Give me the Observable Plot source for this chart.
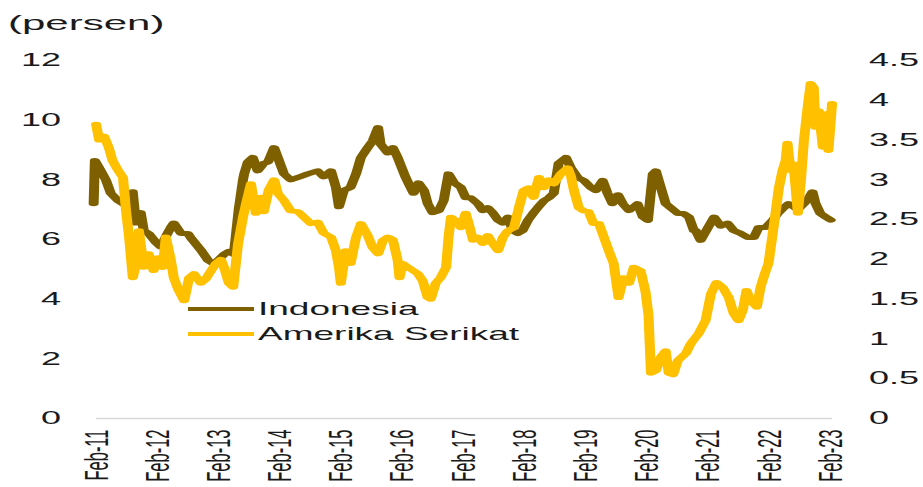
<!DOCTYPE html>
<html>
<head>
<meta charset="utf-8">
<script src="https://cdn.jsdelivr.net/npm/d3@7"></script>
<script src="https://cdn.jsdelivr.net/npm/@observablehq/plot@0.6"></script>
<style>
  html, body { margin: 0; padding: 0; background: #fff; }
  #stage {
    position: relative; width: 461.5px; height: 487px;
    transform: scaleX(2); transform-origin: 0 0;
    font-family: "Liberation Sans", Arial, sans-serif; color: #1a1a1a;
  }
  #unit { position: absolute; left: 4px; top: 9px; font-size: 21px; line-height: 28px; }
  .leg { position: absolute; left: 94px; height: 24px; display: flex; align-items: center; font-size: 18.5px; white-space: nowrap; }
  .leg .sw { width: 33px; height: 4px; margin-right: 2px; }
  svg { overflow: visible; }
</style>
</head>
<body>
<div id="stage">
  <div id="unit">(persen)</div>
  <div id="chart"></div>
  <div class="leg" style="top:297px"><span class="sw" style="background:#7F6000"></span>Indonesia</div>
  <div class="leg" style="top:322px"><span class="sw" style="background:#FFC000"></span>Amerika Serikat</div>
</div>
<script>
// Series names
const seriesNames = ["Indonesia", "Amerika Serikat"];
// Axis ticks
const leftTicks = [0, 2, 4, 6, 8, 10, 12];
const rightTicks = [0, 0.5, 1, 1.5, 2, 2.5, 3, 3.5, 4, 4.5];
const xTickYears = [2011, 2012, 2013, 2014, 2015, 2016, 2017, 2018, 2019, 2020, 2021, 2022, 2023];

// Indonesia (left axis), dates as decimal years
const indoYears = [2011.03, 2011.05, 2011.15, 2011.23, 2011.31, 2011.43, 2011.51, 2011.59, 2011.67, 2011.72, 2011.80, 2011.85, 2011.93,
  2012.05, 2012.13, 2012.21, 2012.29, 2012.34, 2012.46, 2012.57, 2012.62, 2012.78, 2012.90, 2012.98,
  2013.06, 2013.16, 2013.24, 2013.32, 2013.40, 2013.47, 2013.49, 2013.55, 2013.63, 2013.71, 2013.81, 2013.88, 2013.98,
  2014.04, 2014.14, 2014.25, 2014.37, 2014.53, 2014.69, 2014.79, 2014.91, 2014.99,
  2015.04, 2015.12, 2015.23, 2015.32, 2015.40, 2015.51, 2015.59, 2015.68, 2015.72, 2015.84, 2015.92,
  2016.00, 2016.13, 2016.21, 2016.26, 2016.34, 2016.43, 2016.49, 2016.57, 2016.67, 2016.75, 2016.83, 2016.92,
  2017.03, 2017.11, 2017.19, 2017.31, 2017.39, 2017.47, 2017.55, 2017.64, 2017.72, 2017.80, 2017.88, 2017.96,
  2018.04, 2018.13, 2018.21, 2018.29, 2018.39, 2018.47, 2018.55, 2018.63, 2018.75, 2018.83, 2018.94,
  2019.04, 2019.16, 2019.24, 2019.35, 2019.43, 2019.51, 2019.60, 2019.68, 2019.78, 2019.92,
  2020.01, 2020.09, 2020.17, 2020.22, 2020.30, 2020.38, 2020.46, 2020.58, 2020.67, 2020.76, 2020.84, 2020.87, 2020.95,
  2021.07, 2021.17, 2021.28, 2021.39, 2021.49, 2021.61, 2021.72, 2021.82, 2021.90,
  2022.01, 2022.13, 2022.21, 2022.31, 2022.39, 2022.47, 2022.54, 2022.64, 2022.72, 2022.78, 2022.83, 2022.91,
  2023.00, 2023.08];
const indoValues = [7.2, 8.65, 8.3, 8.0, 7.55, 7.3, 7.2, 7.1, 7.6, 6.55, 6.9, 6.3, 6.2,
  5.9, 5.75, 6.1, 6.4, 6.55, 6.2, 6.2, 6.05, 5.65, 5.3, 5.2,
  5.3, 5.5, 5.6, 5.5, 7.0, 8.0, 8.2, 8.6, 8.75, 8.3, 8.55, 8.6, 9.08,
  8.75, 8.2, 8.0, 8.08, 8.2, 8.3, 8.1, 8.3, 7.75,
  7.1, 7.65, 7.75, 8.2, 8.75, 9.08, 9.3, 9.75, 9.2, 8.9, 9.08,
  8.75, 8.08, 7.75, 7.55, 7.9, 7.65, 7.2, 6.9, 6.97, 7.3, 8.2, 7.9,
  7.75, 7.4, 7.4, 7.2, 6.97, 7.07, 6.9, 6.65, 6.55, 6.75, 6.3, 6.2,
  6.3, 6.65, 6.87, 7.07, 7.3, 7.4, 7.55, 8.55, 8.75, 8.4, 8.08,
  7.98, 7.74, 7.64, 7.98, 7.55, 7.2, 7.5, 7.2, 6.97, 7.2,
  6.75, 6.64, 8.2, 8.3, 7.75, 7.2, 7.07, 6.87, 6.87, 6.75, 6.3, 6.3, 5.97,
  6.4, 6.75, 6.45, 6.55, 6.3, 6.2, 6.07, 6.07, 6.4,
  6.4, 6.65, 6.87, 7.07, 7.2, 7.1, 7.0, 7.2, 7.4, 7.6, 7.2, 6.87,
  6.75, 6.65];

// Amerika Serikat (right axis), dates as decimal years
const usYears = [2011.07, 2011.12, 2011.20, 2011.28, 2011.34, 2011.43, 2011.51, 2011.56, 2011.61, 2011.67, 2011.75, 2011.77, 2011.85, 2011.93,
  2012.01, 2012.08, 2012.16, 2012.21, 2012.29, 2012.34, 2012.42, 2012.51, 2012.59, 2012.67, 2012.78, 2012.86, 2012.95,
  2013.03, 2013.11, 2013.16, 2013.24, 2013.31, 2013.39, 2013.47, 2013.52, 2013.60, 2013.68, 2013.76, 2013.81, 2013.89, 2013.98,
  2014.04, 2014.14, 2014.25, 2014.37, 2014.47, 2014.58, 2014.69, 2014.79, 2014.91, 2014.99,
  2015.04, 2015.07, 2015.15, 2015.23, 2015.32, 2015.40, 2015.51, 2015.59, 2015.68, 2015.76, 2015.84, 2015.92,
  2016.00, 2016.03, 2016.08, 2016.17, 2016.25, 2016.33, 2016.41, 2016.49, 2016.54, 2016.62, 2016.70, 2016.79, 2016.83, 2016.87, 2016.95,
  2017.03, 2017.11, 2017.16, 2017.23, 2017.31, 2017.39, 2017.47, 2017.55, 2017.64, 2017.72, 2017.80, 2017.90, 2017.98,
  2018.06, 2018.14, 2018.22, 2018.31, 2018.39, 2018.47, 2018.55, 2018.67, 2018.78, 2018.83, 2018.88, 2018.96,
  2019.04, 2019.12, 2019.20, 2019.29, 2019.37, 2019.45, 2019.53, 2019.61, 2019.69, 2019.78, 2019.86, 2019.97,
  2020.05, 2020.10, 2020.14, 2020.22, 2020.30, 2020.38, 2020.43, 2020.50, 2020.58, 2020.71, 2020.79, 2020.92,
  2021.03, 2021.12, 2021.21, 2021.31, 2021.41, 2021.49, 2021.57, 2021.64, 2021.70, 2021.77, 2021.87, 2021.93,
  2022.00, 2022.06, 2022.13, 2022.18, 2022.23, 2022.29, 2022.34, 2022.37, 2022.42, 2022.47, 2022.54, 2022.59, 2022.64, 2022.70, 2022.75, 2022.80, 2022.83, 2022.88, 2022.95,
  2023.00, 2023.04, 2023.10];
const usValues = [3.7, 3.5, 3.55, 3.4, 3.24, 3.12, 3.03, 2.61, 2.28, 1.77, 2.02, 2.36, 1.9, 2.07,
  1.86, 2.02, 1.9, 2.28, 2.0, 1.77, 1.61, 1.48, 1.77, 1.82, 1.7, 1.75, 1.86,
  1.95, 2.0, 1.9, 1.7, 1.65, 2.2, 2.53, 2.7, 2.95, 2.58, 2.78, 2.6, 2.87, 3.0,
  2.83, 2.74, 2.61, 2.6, 2.53, 2.45, 2.47, 2.33, 2.28, 2.11,
  1.9, 1.7, 2.11, 1.95, 2.28, 2.45, 2.3, 2.15, 2.07, 2.24, 2.28, 2.25,
  1.99, 1.77, 1.95, 1.9, 1.86, 1.82, 1.73, 1.52, 1.5, 1.7, 1.77, 1.9, 2.28, 2.53, 2.49,
  2.4, 2.58, 2.45, 2.24, 2.28, 2.2, 2.3, 2.2, 2.11, 2.28, 2.36, 2.4, 2.65,
  2.87, 2.9, 2.78, 3.03, 2.9, 3.0, 2.95, 3.08, 3.15, 3.05, 2.87, 2.65,
  2.61, 2.6, 2.45, 2.45, 2.28, 2.11, 1.95, 1.52, 1.77, 1.7, 1.9, 1.86,
  1.6, 1.3, 0.57, 0.6, 0.77, 0.85, 0.57, 0.55, 0.73, 0.82, 0.94, 1.07,
  1.23, 1.57, 1.71, 1.65, 1.52, 1.32, 1.23, 1.36, 1.61, 1.48, 1.4, 1.65,
  1.82, 1.95, 2.33, 2.61, 2.9, 3.12, 3.24, 3.46, 3.12, 3.2, 2.58, 2.99, 3.5, 3.91, 4.21, 4.16, 3.66, 3.87, 3.41,
  3.83, 3.37, 3.96];

function decimalYearToDate(y) {
  const yr = Math.floor(y);
  const a = Date.UTC(yr, 0, 1), b = Date.UTC(yr + 1, 0, 1);
  return new Date(a + (y - yr) * (b - a));
}

const leftMax = 12, rightMax = 4.5, ratio = leftMax / rightMax;
const indo = indoYears.map((y, i) => ({date: decimalYearToDate(y), value: indoValues[i]}));
const us = usYears.map((y, i) => ({date: decimalYearToDate(y), value: usValues[i] * ratio}));
const xTicks = xTickYears.map(y => new Date(Date.UTC(y, 1, 1)));

const chart = Plot.plot({
  width: 461.5,
  height: 487,
  marginLeft: 48,
  marginRight: 45.5,
  marginTop: 60,
  marginBottom: 69,
  style: {fontFamily: '"Liberation Sans", Arial, sans-serif', fontSize: "18px", color: "#1a1a1a", background: "transparent"},
  x: {type: "utc", domain: [new Date(Date.UTC(2011, 1, 1)), new Date(Date.UTC(2023, 1, 12))]},
  y: {domain: [0, leftMax]},
  marks: [
    Plot.ruleY([0], {stroke: "#d9d9d9", strokeWidth: 1.5}),
    Plot.axisY(leftTicks, {anchor: "left", tickSize: 0, tickPadding: 18, label: null, fontSize: 18}),
    Plot.axisY(rightTicks.map(v => v * ratio), {anchor: "right", tickSize: 0, tickPadding: 18, label: null, fontSize: 18,
      tickFormat: d => String(+(d / ratio).toFixed(2))}),
    Plot.axisX(xTicks, {anchor: "bottom", tickSize: 0, tickPadding: 11, tickRotate: -90, label: null, fontSize: 16.5,
      tickFormat: d3.utcFormat("%b-%y")}),
    Plot.line(indo, {x: "date", y: "value", stroke: "#7F6000", strokeWidth: 5, strokeLinejoin: "round", strokeLinecap: "round"}),
    Plot.line(us, {x: "date", y: "value", stroke: "#FFC000", strokeWidth: 5, strokeLinejoin: "round", strokeLinecap: "round"})
  ]
});
document.getElementById("chart").appendChild(chart);
</script>
</body>
</html>
